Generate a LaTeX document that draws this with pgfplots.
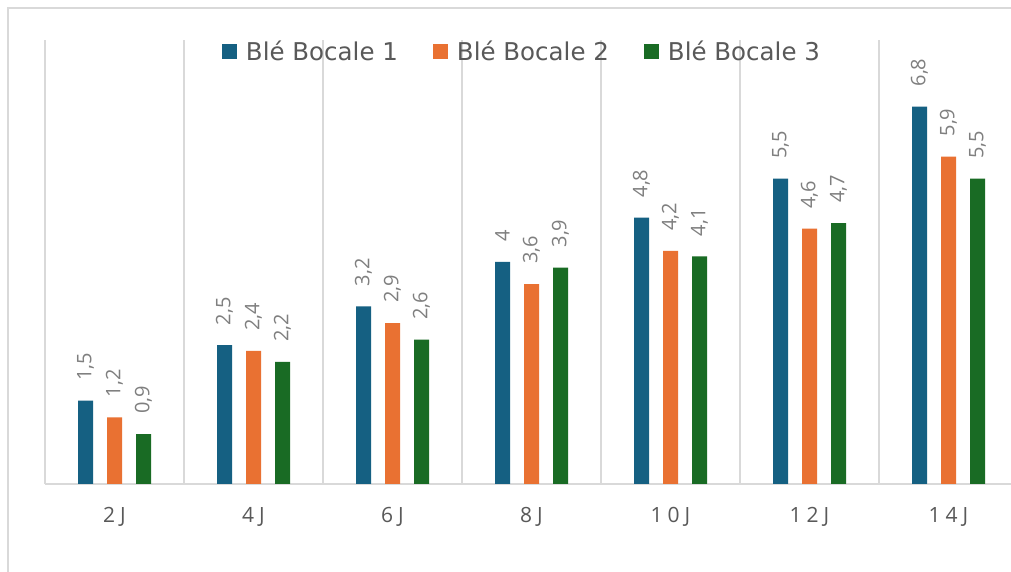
\documentclass[border=0pt]{standalone}
\usepackage{pgfplots}
\pgfplotsset{compat=1.18}
\usepackage{fontspec}
\setmainfont{Open Sans}
\newfontfamily\legfont{DejaVu Sans}
\definecolor{cb}{HTML}{156082}
\definecolor{co}{HTML}{E97132}
\definecolor{cg}{HTML}{196B24}
\definecolor{gridc}{HTML}{D9D9D9}
\definecolor{txt}{HTML}{595959}
\definecolor{lbl}{HTML}{7F7F7F}
\begin{document}
\begin{tikzpicture}
\useasboundingbox (0,0) rectangle (1011pt,572pt);
\begin{scope}
\clip (0,0) rectangle (1011pt,572pt);
\fill[white] (0,0) rectangle (1011pt,572pt);
\draw[gridc, line width=2.5pt] (8pt,-5pt) -- (8pt,564pt) -- (1020pt,564pt);
\begin{axis}[
  at={(45pt,88pt)}, anchor=south west, scale only axis,
  width=973pt, height=444pt,
  xmin=0.5, xmax=7.5, ymin=0, ymax=8,
  axis x line=bottom, axis y line=none,
  x axis line style={-, gridc, line width=2pt},
  xtick={1,...,7},
  xticklabels={{2\hspace{5pt}J},{4\hspace{5pt}J},{6\hspace{5pt}J},{8\hspace{5pt}J},{1\hspace{5pt}0\hspace{5pt}J},{1\hspace{5pt}2\hspace{5pt}J},{1\hspace{5pt}4\hspace{5pt}J}},
  xticklabel style={font=\fontsize{21}{21}\selectfont, text=txt, anchor=base, yshift=-39pt},
  major tick length=0pt, minor tick length=0pt,
  minor xtick={0.5,1.5,...,7.5}, xminorgrids,
  minor grid style={gridc, line width=2pt},
  clip=false,
  ybar=14pt, bar width=15pt,
  /pgf/number format/use comma,
  /pgf/number format/assume math mode=true,
  nodes near coords,
  every node near coord/.append style={rotate=90, anchor=west, font=\fontsize{20}{20}\selectfont, text=lbl, inner xsep=20pt},
  legend style={at={(0.4902,0.975)}, anchor=center, draw=none, fill=none,
    legend columns=3, font=\legfont\fontsize{24.5}{24.5}\selectfont, text=txt,
    /tikz/every even column/.append style={column sep=33pt},
    /tikz/every odd column/.append style={column sep=7pt}},
  legend image code/.code={\fill[#1, draw=none] (0pt,-7.5pt) rectangle (15pt,7.5pt);},
]
\addplot[fill=cb, draw=none] coordinates {(1,1.5) (2,2.5) (3,3.2) (4,4) (5,4.8) (6,5.5) (7,6.8)};
\addplot[fill=co, draw=none] coordinates {(1,1.2) (2,2.4) (3,2.9) (4,3.6) (5,4.2) (6,4.6) (7,5.9)};
\addplot[fill=cg, draw=none] coordinates {(1,0.9) (2,2.2) (3,2.6) (4,3.9) (5,4.1) (6,4.7) (7,5.5)};
\legend{Blé Bocale 1, Blé Bocale 2, Blé Bocale 3}
\end{axis}
\end{scope}
\end{tikzpicture}
\end{document}
